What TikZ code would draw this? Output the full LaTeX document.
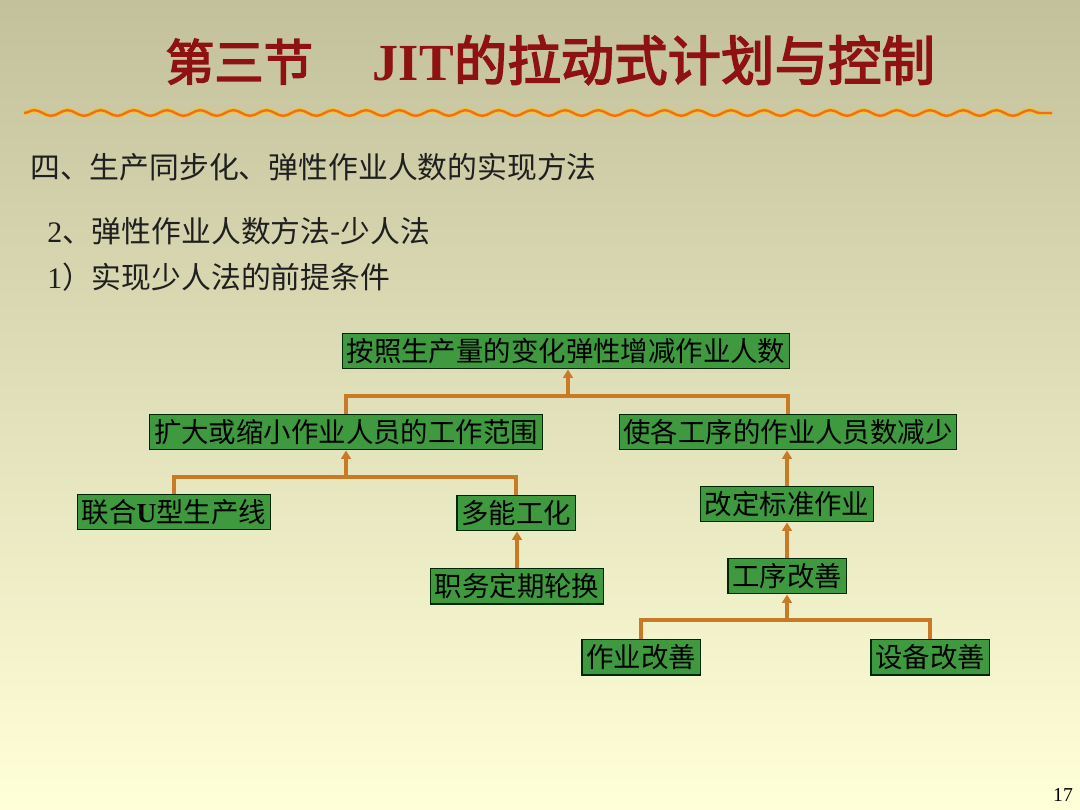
\documentclass[tikz,border=0pt]{standalone}
\usepackage{fontspec}
\setmainfont{Liberation Serif}
\newfontfamily\cjk{Noto Sans CJK SC}
\newfontfamily\cjkheavy[FakeBold=3]{Noto Sans CJK SC}
\usetikzlibrary{arrows.meta,decorations.pathmorphing}

\definecolor{bgtop}{HTML}{C2C19B}
\definecolor{bgmid}{HTML}{E9E7B9}
\definecolor{bgbot}{HTML}{FFFFD8}
\definecolor{boxgreen}{HTML}{3F9A3F}
\definecolor{linkorange}{HTML}{C97A26}
\definecolor{waveorange}{HTML}{EE6E22}
\definecolor{titlered}{HTML}{8E1212}

\begin{document}
\begin{tikzpicture}[
    x=0.025cm, y=-0.025cm,
    box/.style={draw=black!85!green, line width=0.8pt, fill=boxgreen,
        inner xsep=3pt, inner ysep=0pt, minimum height=25.5pt,
        font=\cjk\fontsize{19.5pt}{23pt}\selectfont},
    link/.style={draw=linkorange, line width=2.6pt},
    body/.style={anchor=west, inner sep=0pt, text=black!88,
        font=\cjk\fontsize{21.2pt}{25pt}\selectfont},
    >={Triangle[length=6pt, width=7pt]}
]
    % 背景
    \shade[top color=bgtop, middle color=bgmid, bottom color=bgbot]
        (0,0) rectangle (1080,810);
    \useasboundingbox (0,0) rectangle (1080,810);

    % 标题
    \node[anchor=west, inner sep=0pt, text=titlered] (title) at (165,60)
        {{\cjkheavy\fontsize{35pt}{40pt}\selectfont 第三节}\hspace{42.7pt}%
         {\fontsize{37pt}{40pt}\selectfont\bfseries JIT}%
         {\cjkheavy\fontsize{38pt}{40pt}\selectfont 的拉动式计划与控制}};

    % 波浪线
    \draw[line width=3.2pt, draw=orange!45!yellow, opacity=0.7, decorate,
        decoration={snake, segment length=23.59pt, amplitude=2pt}] (24,113) -- (1052,113);
    \draw[line width=1.7pt, draw=waveorange, decorate,
        decoration={snake, segment length=23.59pt, amplitude=2pt}] (24,113) -- (1052,113);

    % 正文
    \node[body] (h1) at (30,167) {四、生产同步化、弹性作业人数的实现方法};
    \node[body] (h2) at (47,231) {{\rmfamily 2}、弹性作业人数方法-少人法};
    \node[body] (h3) at (47,277) {{\rmfamily 1}）实现少人法的前提条件};

    % 节点
    \node[box] (top) at (566,351) {按照生产量的变化弹性增减作业人数};
    \node[box] (kd)  at (346,432) {扩大或缩小作业人员的工作范围};
    \node[box] (js)  at (788,432) {使各工序的作业人员数减少};
    \node[box] (lh)  at (174,512) {联合{\rmfamily\bfseries U}型生产线};
    \node[box] (dn)  at (516,513) {多能工化};
    \node[box] (zw)  at (517,586) {职务定期轮换};
    \node[box] (gd)  at (787,504) {改定标准作业};
    \node[box] (gx)  at (787,576) {工序改善};
    \node[box] (zy)  at (641,657) {作业改善};
    \node[box] (sb)  at (930,657) {设备改善};

    % 连线
    \coordinate (b1) at (568,396);
    \coordinate (b2) at (346,477);
    \coordinate (b3) at (787,620);
    \draw[link] (kd.north) |- (b1) -| (js.north);
    \draw[link,->] (b1) -- (b1 |- top.south);
    \draw[link] (lh.north) |- (b2) -| (dn.north);
    \draw[link,->] (b2) -- (kd.south);
    \draw[link,->] (zw.north) -- (zw.north |- dn.south);
    \draw[link,->] (gd.north) -- (gd.north |- js.south);
    \draw[link,->] (gx.north) -- (gd.south);
    \draw[link] (zy.north) |- (b3) -| (sb.north);
    \draw[link,->] (b3) -- (gx.south);

    % 页码
    \node[inner sep=0pt, font=\fontsize{14pt}{16pt}\selectfont] (pg) at (1063,795) {17};
\end{tikzpicture}
\end{document}
